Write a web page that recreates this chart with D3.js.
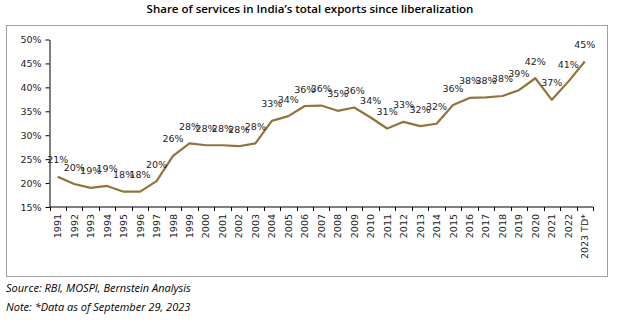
<!DOCTYPE html>
<html><head><meta charset="utf-8">
<script src="https://cdn.jsdelivr.net/npm/d3@7"></script>
<style>
html,body{margin:0;padding:0;background:#fff;}
svg{display:block;}
</style></head>
<body>
<svg id="chart" width="621" height="325"></svg>
<script>
const categories = ["1991","1992","1993","1994","1995","1996","1997","1998","1999","2000","2001","2002","2003","2004","2005","2006","2007","2008","2009","2010","2011","2012","2013","2014","2015","2016","2017","2018","2019","2020","2021","2022","2023 TD*"];
const serviceShare = [0.213,0.198,0.190,0.194,0.182,0.182,0.204,0.257,0.283,0.279,0.279,0.277,0.283,0.330,0.340,0.361,0.362,0.351,0.358,0.337,0.314,0.328,0.319,0.324,0.363,0.378,0.379,0.382,0.394,0.419,0.374,0.412,0.454];
const yTicks = [0.15,0.20,0.25,0.30,0.35,0.40,0.45,0.50];
const titleText = "Share of services in India\u2019s total exports since liberalization";
const sourceText = "Source: RBI, MOSPI, Bernstein Analysis";
const noteText = "Note: *Data as of September 29, 2023";

const svg = d3.select("#chart");
svg.append("rect").attr("width",621).attr("height",325).attr("fill","#fff");

// frame
svg.append("rect").attr("x",6.5).attr("y",25.5).attr("width",601).attr("height",251)
  .attr("fill","none").attr("stroke","#a0a0a0").attr("stroke-width",1);

// title
svg.append("text").attr("x",310).attr("y",12.5).attr("text-anchor","middle")
  .attr("font-family","'Open Sans', sans-serif").attr("font-weight",600).attr("font-size",11.5)
  .attr("fill","#000").text(titleText);

const x = d3.scaleBand().domain(categories).range([49.5, 593]).paddingInner(0).paddingOuter(0);
const y = d3.scaleLinear().domain([0.15,0.50]).range([207, 39.5]);

const axisFont = "'DejaVu Sans', sans-serif";

// y axis
const yAxis = svg.append("g").attr("transform","translate(49.5,0)")
  .call(d3.axisLeft(y).tickValues(yTicks).tickFormat(d3.format(".0%")).tickSize(4).tickPadding(10).tickSizeOuter(0));
yAxis.selectAll("text").attr("font-family",axisFont).attr("font-size",9.5).attr("fill","#222").attr("text-anchor","end").attr("dx","6");
yAxis.selectAll("line,path").attr("stroke","#000");

// x axis: ticks at band edges
const xg = svg.append("g").attr("transform","translate(0,207)");
xg.append("line").attr("x1",x.range()[0]).attr("x2",x.range()[1]).attr("stroke","#000");
const edges = categories.map(c => x(c)).concat([x.range()[1]]);
xg.selectAll("line.tk").data(edges).join("line").attr("class","tk")
  .attr("x1",d=>Math.round(d)+0.5).attr("x2",d=>Math.round(d)+0.5).attr("y1",0).attr("y2",4).attr("stroke","#000");
xg.selectAll("text").data(categories).join("text")
  .attr("transform",d=>`translate(${x(d)+x.bandwidth()/2+3.5},7) rotate(-90)`)
  .attr("text-anchor","end")
  .attr("font-family",axisFont).attr("font-size",9.5).attr("fill","#222")
  .text(d=>d);

// line
const pts = categories.map((c,i)=>({c, v: serviceShare[i]}));
const line = d3.line().x(d=>x(d.c)+x.bandwidth()/2).y(d=>y(d.v));
svg.append("path").datum(pts).attr("d",line).attr("fill","none")
  .attr("stroke","#94733A").attr("stroke-width",2.2).attr("stroke-linejoin","round");

// data labels
svg.append("g").selectAll("text").data(pts).join("text")
  .attr("x",d=>x(d.c)+x.bandwidth()/2).attr("y",d=>y(d.v)-13.5)
  .attr("text-anchor","middle").attr("font-family",axisFont).attr("font-size",9.5).attr("fill","#222")
  .text(d=>d3.format(".0%")(d.v));

// footnotes
const foot = svg.append("g").attr("font-family","'Open Sans', sans-serif").attr("font-style","italic").attr("font-size",11).attr("fill","#000");
foot.append("text").attr("x",6).attr("y",292).text(sourceText);
foot.append("text").attr("x",6).attr("y",311).text(noteText);
</script>
</body></html>
